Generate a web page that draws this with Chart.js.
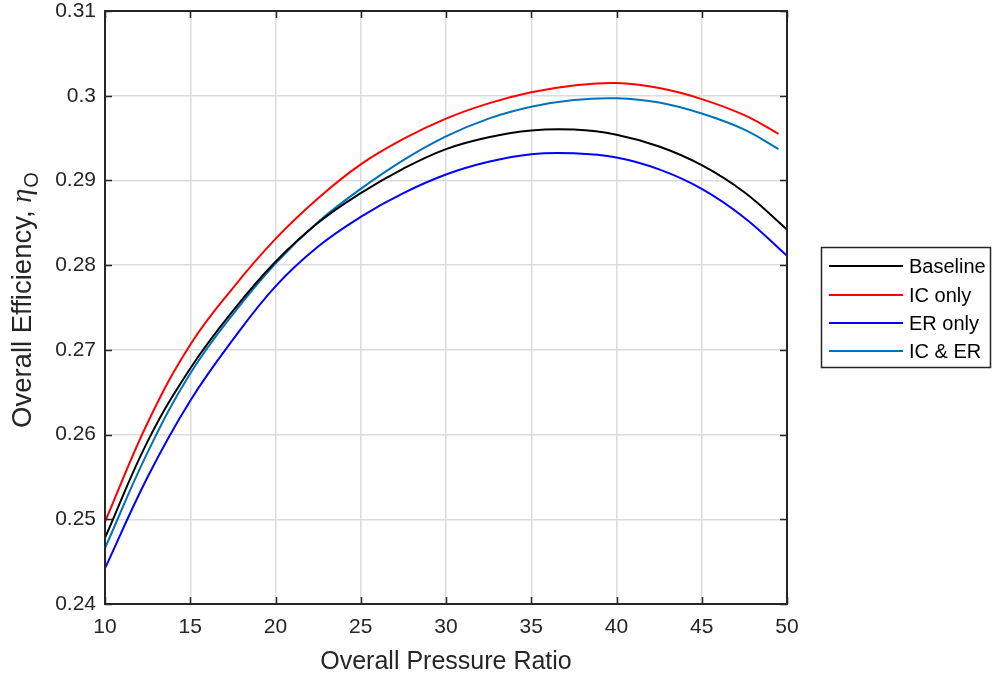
<!DOCTYPE html>
<html>
<head>
<meta charset="utf-8">
<script src="https://cdn.jsdelivr.net/npm/chart.js@4"></script>
<style>
html,body{margin:0;padding:0;background:#fff;}
#wrap{position:relative;width:992px;height:677px;}
</style>
</head>
<body>
<div id="wrap"><canvas id="c" width="992" height="677"></canvas></div>
<script>
// ---- data ----
const pressureRatio   = [10, 12.5, 15, 17.5, 20, 22.5, 25, 27.5, 30, 32.5, 35, 37.5, 40, 42.5, 45, 47.5, 50];
const pressureRatioIC = [10, 12.5, 15, 17.5, 20, 22.5, 25, 27.5, 30, 32.5, 35, 37.5, 40, 42.5, 45, 47.5, 49.5];
const baseline = [0.2478, 0.2592, 0.2678, 0.2746, 0.2804, 0.2850, 0.2885, 0.2914, 0.2937, 0.2951, 0.2959, 0.2960, 0.2954, 0.2940, 0.2918, 0.2886, 0.2842];
const icOnly   = [0.2497, 0.2614, 0.2706, 0.2773, 0.2831, 0.2879, 0.2919, 0.2949, 0.2973, 0.2991, 0.3004, 0.3012, 0.3015, 0.3009, 0.2996, 0.2977, 0.2955];
const erOnly   = [0.2442, 0.2550, 0.2640, 0.2712, 0.2775, 0.2822, 0.2857, 0.2885, 0.2907, 0.2922, 0.2931, 0.2932, 0.2927, 0.2913, 0.2890, 0.2856, 0.2811];
const icEr     = [0.2466, 0.2579, 0.2672, 0.2742, 0.2802, 0.2851, 0.2890, 0.2924, 0.2952, 0.2973, 0.2987, 0.2995, 0.2997, 0.2992, 0.2979, 0.2960, 0.2937];
const seriesNames = ['Baseline', 'IC only', 'ER only', 'IC & ER'];
const seriesColors = ['#000000', '#FF0000', '#0000FF', '#0072BD'];
const xTicks = [10, 15, 20, 25, 30, 35, 40, 45, 50];
const yTicks = [0.24, 0.25, 0.26, 0.27, 0.28, 0.29, 0.30, 0.31];
const xTitle = 'Overall Pressure Ratio';
const yTitle = 'Overall Efficiency, ';

const toPts = (xs, ys) => xs.map((x, i) => ({x: x, y: ys[i]}));
const seriesData = [toPts(pressureRatio, baseline), toPts(pressureRatioIC, icOnly), toPts(pressureRatio, erOnly), toPts(pressureRatioIC, icEr)];

const AX = '#262626';
const FONT = '"Liberation Sans", Arial, Helvetica, sans-serif';

const extrasPlugin = {
  id: 'extras',
  afterDraw(chart) {
    const ctx = chart.ctx;
    const a = chart.chartArea;
    const xs = chart.scales.x, ys = chart.scales.y;
    ctx.save();
    // inside tick marks on all four sides
    ctx.strokeStyle = AX;
    ctx.lineWidth = 1.5;
    const tl = 7;
    xTicks.forEach(v => {
      const px = Math.round(xs.getPixelForValue(v)) + 0.5;
      ctx.beginPath();
      ctx.moveTo(px, a.bottom); ctx.lineTo(px, a.bottom - tl);
      ctx.moveTo(px, a.top); ctx.lineTo(px, a.top + tl);
      ctx.stroke();
    });
    yTicks.forEach(v => {
      const py = Math.round(ys.getPixelForValue(v)) + 0.5;
      ctx.beginPath();
      ctx.moveTo(a.left, py); ctx.lineTo(a.left + tl, py);
      ctx.moveTo(a.right, py); ctx.lineTo(a.right - tl, py);
      ctx.stroke();
    });
    // box
    ctx.lineWidth = 2;
    ctx.strokeRect(a.left, a.top, a.right - a.left, a.bottom - a.top);

    // y title with eta subscript O
    ctx.save();
    ctx.translate(31, 428);
    ctx.rotate(-Math.PI / 2);
    ctx.fillStyle = AX;
    ctx.textBaseline = 'alphabetic';
    const fs = 27.5;
    const f1 = fs + 'px ' + FONT;
    const f2 = 'italic ' + (fs + 1) + 'px "Liberation Serif", "DejaVu Serif", serif';
    const f3 = Math.round(fs * 0.72) + 'px ' + FONT;
    ctx.font = f1; const w1 = ctx.measureText(yTitle).width;
    ctx.font = f2; const w2 = ctx.measureText('\u03B7').width;
    let x0 = 0;
    ctx.font = f1; ctx.fillText(yTitle, x0, 0); x0 += w1;
    ctx.font = f2; ctx.fillText('\u03B7', x0, 0); x0 += w2 + 1;
    ctx.font = f3; ctx.fillText('O', x0, 7);
    ctx.restore();

    // legend
    const lx = 821, ly = 247, lw = 169, lh = 120;
    ctx.fillStyle = '#fff';
    ctx.fillRect(lx, ly, lw, lh);
    ctx.strokeStyle = AX;
    ctx.lineWidth = 1.5;
    ctx.strokeRect(lx + 0.5, ly + 0.5, lw, lh);
    const rows = [266, 295, 323, 351];
    ctx.font = '20px ' + FONT;
    ctx.textBaseline = 'middle';
    seriesNames.forEach((n, i) => {
      ctx.strokeStyle = seriesColors[i];
      ctx.lineWidth = 2;
      ctx.beginPath();
      ctx.moveTo(829, rows[i]); ctx.lineTo(903, rows[i]);
      ctx.stroke();
      ctx.fillStyle = '#000';
      ctx.fillText(n, 909, rows[i] + 1);
    });
    ctx.restore();
  }
};

new Chart(document.getElementById('c'), {
  type: 'line',
  data: {
    datasets: seriesNames.map((n, i) => ({
      label: n,
      data: seriesData[i],
      borderColor: seriesColors[i],
      backgroundColor: seriesColors[i],
      borderWidth: 2,
      pointRadius: 0,
      tension: 0.4,
      fill: false
    }))
  },
  options: {
    responsive: false,
    animation: false,
    layout: {padding: {top: 11, right: 205, left: 0, bottom: 0}},
    plugins: {legend: {display: false}, tooltip: {enabled: false}},
    scales: {
      x: {
        type: 'linear', min: 10, max: 50,
        afterBuildTicks: s => { s.ticks = xTicks.map(v => ({value: v})); },
        afterFit: s => { s.height = 73; s.paddingLeft = 0; s.paddingRight = 0; },
        grid: {color: '#dcdcdc', lineWidth: 1.5, drawTicks: false},
        border: {display: false},
        ticks: {color: AX, font: {family: FONT, size: 21}, padding: 11, maxRotation: 0,
                callback: v => String(v)},
        title: {display: true, text: xTitle, color: AX, font: {family: FONT, size: 25}, padding: {top: 4, bottom: 0}}
      },
      y: {
        type: 'linear', min: 0.24, max: 0.31,
        afterBuildTicks: s => { s.ticks = yTicks.map(v => ({value: v})); },
        afterFit: s => { s.width = 105; s.paddingTop = 0; s.paddingBottom = 0; },
        grid: {color: '#dcdcdc', lineWidth: 1.5, drawTicks: false},
        border: {display: false},
        ticks: {color: AX, font: {family: FONT, size: 21}, padding: 9,
                callback: v => String(parseFloat(Number(v).toFixed(2)))}
      }
    }
  },
  plugins: [extrasPlugin]
});
</script>
</body>
</html>
